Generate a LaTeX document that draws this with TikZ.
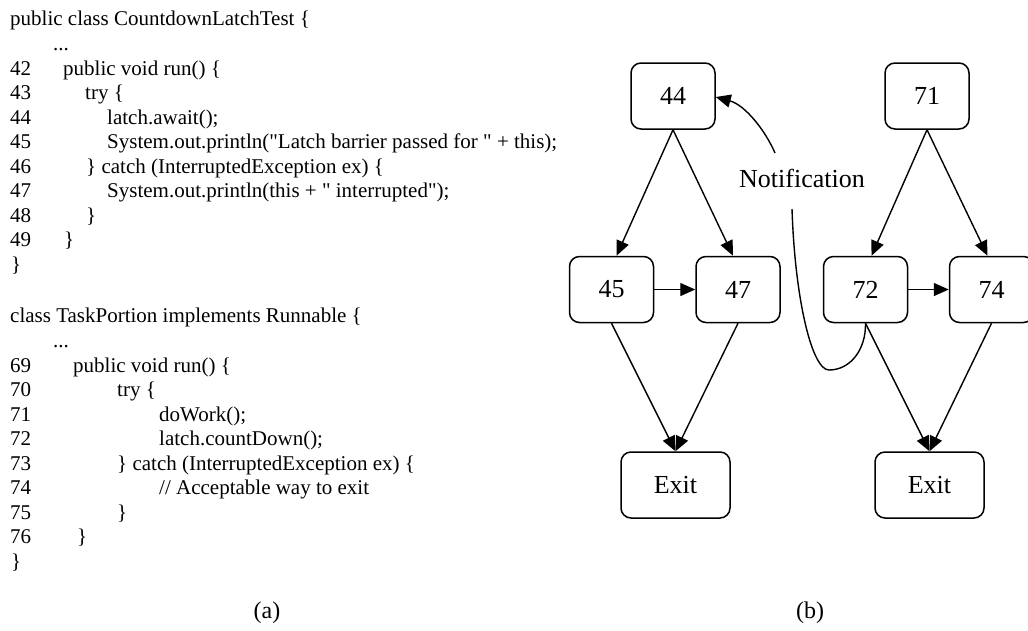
\documentclass[tikz,border=0pt]{standalone}
\usepackage{fontspec}
\setmainfont{Liberation Serif}[Ligatures=TeXOff]
\usetikzlibrary{arrows.meta}
\begin{document}
\begin{tikzpicture}[x=1pt,y=-1pt,
  code/.style={anchor=base west, inner sep=0pt, font=\fontsize{21}{25}\selectfont},
  captext/.style={anchor=base, inner sep=0pt, font=\fontsize{24}{28}\selectfont},
  box/.style={draw, line width=1.5pt, rounded corners=10pt, minimum width=84pt, minimum height=66pt, font=\fontsize{26}{30}\selectfont, inner sep=0pt},
  exitbox/.style={box, minimum width=109pt},
  edge/.style={line width=1.4pt, -{Triangle[length=15pt,width=13pt]}},
  plain/.style={line width=1.4pt},
]
\useasboundingbox (0,0) rectangle (1028,630);
\clip (0,0) rectangle (1028,630);
% ---- code (a) ----
\node[code] (c0) at (10,25) {public class CountdownLatchTest \{};
\node[code] (c1) at (53,50) {...};
\node[code] (n42) at (10,75) {42}; \node[code] (t42) at (63,75) {public void run() \{};
\node[code] (n43) at (10,99.5) {43}; \node[code] (t43) at (85,99.5) {try \{};
\node[code] (n44t) at (10,124) {44}; \node[code] (t44) at (107,124) {latch.await();};
\node[code] (n45t) at (10,148.5) {45}; \node[code] (t45) at (107,148.5) {System.out.println("Latch barrier passed for " + this);};
\node[code] (n46) at (10,173) {46}; \node[code] (t46) at (86,173) {\} catch (InterruptedException ex) \{};
\node[code] (n47t) at (10,197.5) {47}; \node[code] (t47) at (107,197.5) {System.out.println(this + " interrupted");};
\node[code] (n48) at (10,222) {48}; \node[code] (t48) at (86,222) {\}};
\node[code] (n49) at (10,246.5) {49}; \node[code] (t49) at (64,246.5) {\}};
\node[code] (c2) at (11,271) {\}};
\node[code] (c3) at (10,322) {class TaskPortion implements Runnable \{};
\node[code] (c4) at (53,347) {...};
\node[code] (n69) at (10,372) {69}; \node[code] (t69) at (73,372) {public void run() \{};
\node[code] (n70) at (10,396.5) {70}; \node[code] (t70) at (117,396.5) {try \{};
\node[code] (n71t) at (10,421) {71}; \node[code] (t71) at (159,421) {doWork();};
\node[code] (n72t) at (10,445.5) {72}; \node[code] (t72) at (159,445.5) {latch.countDown();};
\node[code] (n73) at (10,470) {73}; \node[code] (t73) at (117,470) {\} catch (InterruptedException ex) \{};
\node[code] (n74t) at (10,494.5) {74}; \node[code] (t74) at (159,494.5) {// Acceptable way to exit};
\node[code] (n75) at (10,519) {75}; \node[code] (t75) at (117,519) {\}};
\node[code] (n76) at (10,543.5) {76}; \node[code] (t76) at (77,543.5) {\}};
\node[code] (c5) at (11,568) {\}};
\node[captext] (capa) at (267,618) {(a)};
\node[captext] (capb) at (810,618) {(b)};
% ---- graph (b) ----
\node[box] (g44) at (673,96) {44};
\node[box] (g71) at (927,96) {71};
\node[box] (g45) at (611.5,289.5) {45};
\node[box] (g47) at (738,289.5) {47};
\node[box] (g72) at (865.5,289.5) {72};
\node[box] (g74) at (991.5,289.5) {74};
\node[exitbox] (ex1) at (675.5,485) {Exit};
\node[exitbox] (ex2) at (929.5,485) {Exit};
\draw[edge] (g44.south) -- ([xshift=5pt]g45.north);
\draw[edge] (g44.south) -- ([xshift=-5pt]g47.north);
\draw[edge] (g71.south) -- ([xshift=6pt]g72.north);
\draw[edge] (g71.south) -- ([xshift=-4pt]g74.north);
\draw[edge] (g45.east) -- (g47.west);
\draw[edge] (g72.east) -- (g74.west);
\draw[edge] (g45.south) -- (ex1.north);
\draw[edge] (g47.south) -- (ex1.north);
\draw[edge] (g72.south) -- (ex2.north);
\draw[edge] (g74.south) -- (ex2.north);
% notification
\coordinate (nlow) at (792,209);
\coordinate (nhigh) at (775,153);
\node[anchor=base, inner sep=0pt, font=\fontsize{26}{30}\selectfont] (notif) at (802,187) {Notification};
\draw[plain] (g72.south) .. controls (866,350) and (850,370) .. (829,370)
   .. controls (812,370) and (795,300) .. (nlow);
\draw[edge] (nhigh) .. controls (765,130) and (745,105) .. ([yshift=-1pt]g44.east);
\end{tikzpicture}
\end{document}
